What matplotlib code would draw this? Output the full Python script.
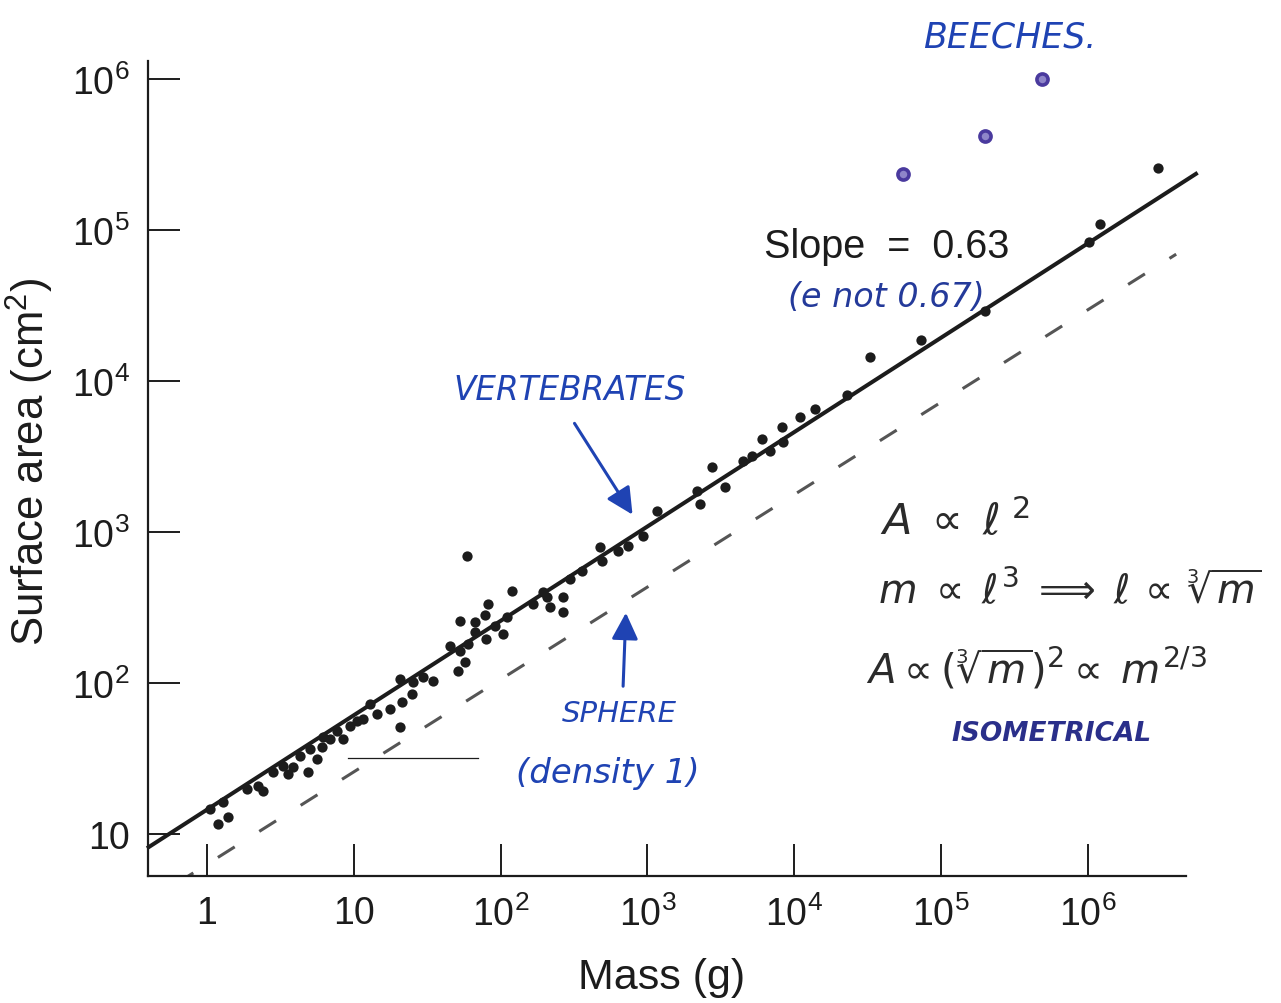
import matplotlib
matplotlib.use("Agg")
import matplotlib.pyplot as plt
from matplotlib.ticker import NullLocator
import numpy as np

# ---------------- data ----------------
vert_mass = [1.19, 1.39, 1.05, 1.29, 1.87, 2.41, 2.82, 3.30, 3.56, 4.88, 4.30, 5.03,
             5.61, 6.07, 6.17, 6.88, 7.69, 9.42, 10.5, 11.6, 12.9, 14.4, 17.6, 20.6,
             21.3, 24.9, 20.6, 25.3, 29.6, 34.7, 51.3, 45.2, 52.9, 60.0, 57.2, 52.9,
             59.0, 120, 82.0, 78.3, 66.9, 66.9, 104, 79.6, 91.6, 111, 166, 194, 207,
             217, 266, 266, 297, 358, 475, 491, 631, 738, 934, 1163, 2176, 2281, 2754,
             3378, 4479, 5161, 6036, 6842, 8260, 8394, 10960, 13870, 22900, 32800,
             73100, 199500, 1.02e6, 1.21e6, 3.0e6, 2.22, 3.85, 8.44]
vert_area = [11.6, 13.0, 14.6, 16.3, 19.9, 19.3, 25.8, 28.2, 25.0, 25.8, 32.9, 36.6,
             31.4, 37.7, 43.9, 42.6, 48.1, 51.9, 56.0, 57.8, 72.6, 62.4, 67.3, 51.2,
             74.8, 84.5, 106, 102, 110, 103, 120, 176, 163, 181, 138, 258,
             693, 406, 333, 282, 253, 218, 211, 196, 238, 273, 333, 401, 371,
             319, 371, 295, 489, 552, 796, 643, 748, 808, 941, 1377, 1870, 1532, 2692,
             1986, 2953, 3186, 4129, 3438, 4955, 3945, 5780, 6530, 8080, 14420,
             18700, 29100, 83400, 109600, 257600, 20.8, 27.8, 42.6]

beech_mass = [55100, 199500, 487000]
beech_area = [235000, 420000, 1.0e6]

# fitted allometric line (slope 0.63) and sphere of density 1
fit_coef, fit_slope = 14.5, 0.625
fit_mass_range = [0.39, 5.6e6]
sphere_coef, sphere_slope = 6.3, 0.612
sphere_mass_range = [0.62, 4.0e6]

# short thin reference stroke printed in the figure
stroke_mass = [9.1, 70.0]
stroke_area = [31.8, 31.8]

x_ticks = [1, 10, 1e2, 1e3, 1e4, 1e5, 1e6]
x_ticklabels = ["1", "10", "$10^2$", "$10^3$", "$10^4$", "$10^5$", "$10^6$"]
y_ticks = [10, 1e2, 1e3, 1e4, 1e5, 1e6]
y_ticklabels = ["10", "$10^2$", "$10^3$", "$10^4$", "$10^5$", "$10^6$"]

# ---------------- style ----------------
plt.rcParams["font.family"] = ["Liberation Sans", "DejaVu Sans"]
plt.rcParams["mathtext.fontset"] = "custom"
plt.rcParams["mathtext.rm"] = "Liberation Sans"
plt.rcParams["mathtext.it"] = "Liberation Sans:italic"
plt.rcParams["mathtext.bf"] = "Liberation Sans:bold"

W, H = 1281, 1004
def fx(x):
    return x / W
def fy(y):
    return 1 - y / H

INK = "#1c1c1c"
BLUE = "#1f43b3"
PURPLE = "#4a3a9e"

fig = plt.figure(figsize=(W / 100, H / 100), dpi=100)
fig.patch.set_facecolor("white")

# axes placement (pixel layout of the reference)
L, R, B, T = 148, 1200, 877, 40
ax = fig.add_axes([fx(L), fy(B), (R - L) / W, (B - T) / H])
ax.set_facecolor("none")
ax.set_xscale("log")
ax.set_yscale("log")
x0, xdec = 207.0, 146.8     # pixel of mass=1, pixels per decade
y0, ydec = 835.0, 151.0     # pixel of area=10, pixels per decade
ax.set_xlim(10 ** ((L - x0) / xdec), 10 ** ((R - x0) / xdec))
ax.set_ylim(10 ** (1 + (y0 - B) / ydec), 10 ** (1 + (y0 - T) / ydec))

for s in ["top", "right"]:
    ax.spines[s].set_visible(False)
for s in ["left", "bottom"]:
    ax.spines[s].set_linewidth(1.6)
    ax.spines[s].set_color(INK)
ax.spines["bottom"].set_bounds(ax.get_xlim()[0], 10 ** ((1186 - x0) / xdec))
ax.spines["left"].set_bounds(ax.get_ylim()[0], 10 ** (1 + (y0 - 62) / ydec))

ax.set_xticks(x_ticks)
ax.set_xticklabels(x_ticklabels)
ax.set_yticks(y_ticks)
ax.set_yticklabels(y_ticklabels)
ax.xaxis.set_minor_locator(NullLocator())
ax.yaxis.set_minor_locator(NullLocator())
ax.tick_params(axis="both", direction="in", length=23, width=1.4, colors=INK,
               labelsize=27)
ax.tick_params(axis="x", pad=14)
ax.tick_params(axis="y", pad=13)

# fitted line and sphere line
fm = np.geomspace(*fit_mass_range, 50)
ax.plot(fm, fit_coef * fm ** fit_slope, color=INK, lw=2.9, clip_on=False,
        solid_capstyle="butt", zorder=3)
sm = np.geomspace(*sphere_mass_range, 50)
ln, = ax.plot(sm, sphere_coef * sm ** sphere_slope, color="#555555", lw=2.2,
              zorder=2)
ln.set_dashes((6.5, 9.5))

ax.plot(stroke_mass, stroke_area, color=INK, lw=0.9, zorder=2)

# data points
ax.plot(vert_mass, vert_area, "o", ms=7.4, color=INK, mec="none",
        clip_on=False, zorder=4)
ax.plot(beech_mass, beech_area, "o", ms=8, mfc="#8f86c9", mec=PURPLE, mew=2.6,
        clip_on=False, zorder=4)

# axis labels
fig.text(fx(662), fy(978), "Mass (g)", ha="center", va="center", fontsize=31,
         color=INK)
fig.text(fx(30), fy(462), "Surface area (cm$^2$)", ha="center", va="center",
         rotation=90, fontsize=31.5, color=INK)

# printed annotation
fig.text(fx(764), fy(258), "Slope  =  0.63", ha="left", va="baseline",
         fontsize=28.5, color=INK)

# handwritten annotations
hand = dict(family=["DejaVu Sans"], style="italic")
fig.text(fx(1010), fy(37), "BEECHES.", ha="center", va="center", fontsize=25,
         color=BLUE, **hand)
fig.text(fx(570), fy(391), "VERTEBRATES", ha="center", va="center", fontsize=23.5,
         color=BLUE, **hand)
fig.text(fx(886), fy(298), "(e not 0.67)", ha="center", va="center", fontsize=24,
         color="#243a9a", **hand)
fig.text(fx(619), fy(714), "SPHERE", ha="center", va="center", fontsize=21,
         color=BLUE, **hand)
fig.text(fx(608), fy(774), "(density 1)", ha="center", va="center", fontsize=24.5,
         color=BLUE, **hand)
fig.text(fx(1052), fy(734), "ISOMETRICAL", ha="center", va="center", fontsize=19,
         color="#2a2f8a", fontweight="bold", **hand)

eq = dict(ha="left", va="center", color="#2b2b2b", math_fontfamily="dejavusans")
fig.text(fx(880), fy(522), r"$A \;\propto\; \ell^{\;2}$", fontsize=31, **eq)
fig.text(fx(878), fy(590),
         r"$m \;\propto\; \ell^{3} \;\Longrightarrow\; \ell \,\propto\, \sqrt[3]{m}$",
         fontsize=28.5, **eq)
fig.text(fx(866), fy(668),
         r"$A \propto \left(\sqrt[3]{m}\right)^{2} \propto\; m^{2/3}$",
         fontsize=29, **eq)

arrow = dict(arrowstyle="-|>,head_length=0.9,head_width=0.45", color=BLUE, lw=2.2)
fig.add_artist(matplotlib.patches.FancyArrowPatch(
    (fx(573), fy(422)), (fx(634), fy(518)), transform=fig.transFigure,
    mutation_scale=18, **arrow))
fig.add_artist(matplotlib.patches.FancyArrowPatch(
    (fx(623), fy(690)), (fx(626), fy(611)), transform=fig.transFigure,
    mutation_scale=18, **arrow))

fig.savefig("out.png", dpi=100, facecolor="white")
